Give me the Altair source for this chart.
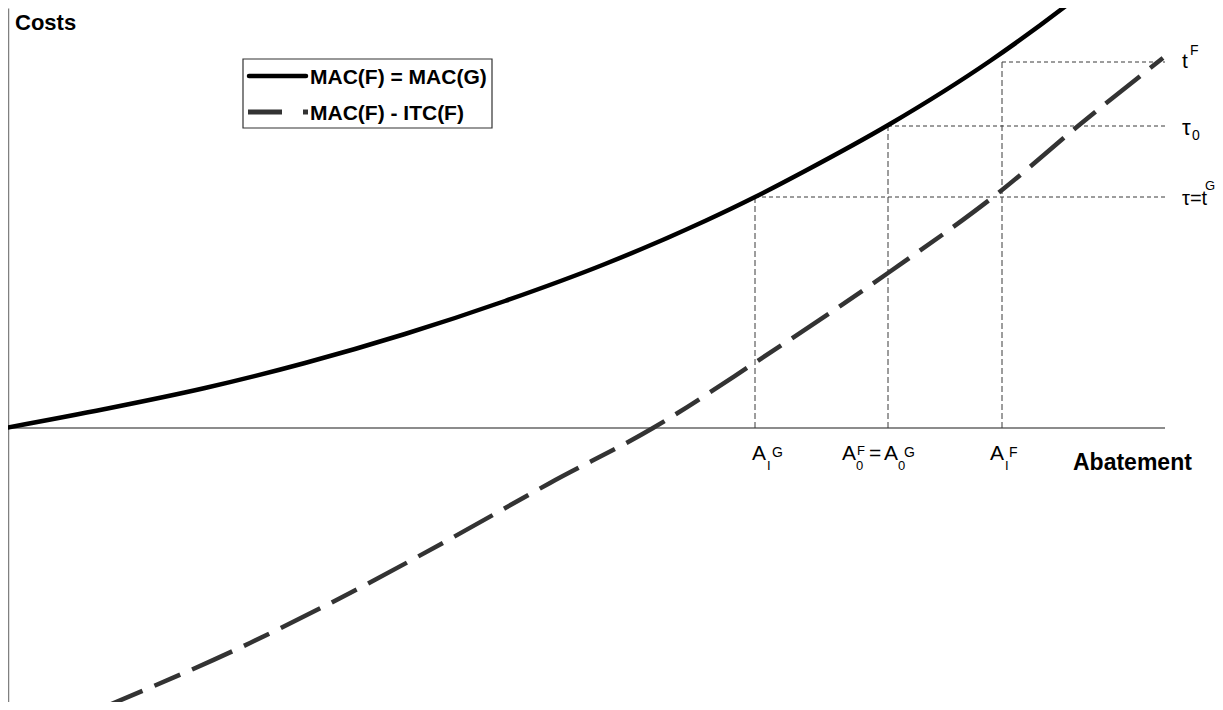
import altair as alt
import pandas as pd

# ---- data (abatement units, cost units; origin = axis crossing) ----
mac_x = [0, 100, 200, 300, 400, 500, 600, 700, 750, 800, 885, 985, 1062, 1080]
mac_y = [0, 19, 40, 65, 94, 127, 164, 207, 231, 257, 304, 367, 423, 437]

itc_x = [97, 245, 345, 445, 545, 648, 751, 883, 997, 1073, 1158]
itc_y = [-280, -215, -165, -111, -55, 0, 66, 155, 238, 302, 370]

abatement_levels = [750, 883, 997]      # A_I^G, A_0^F=A_0^G, A_I^F
price_levels = [231, 302, 366]          # tau=t^G, tau_0, t^F
axis_end = 1160

series_names = ["MAC(F) = MAC(G)", "MAC(F) - ITC(F)"]

FONT = "Liberation Sans"
XS = alt.Scale(domain=[3, 1210])
YS = alt.Scale(domain=[-274, 420])

yaxis = alt.Axis(labels=False, ticks=False, title=None, grid=False,
                 domainColor="#808080", domainWidth=1.5)


def X(f="x"):
    return alt.X(f"{f}:Q", scale=XS, axis=None)


def Y(f="y"):
    return alt.Y(f"{f}:Q", scale=YS, axis=yaxis)


mac_df = pd.DataFrame({"x": mac_x, "y": mac_y})
itc_df = pd.DataFrame({"x": itc_x, "y": itc_y})

mac_line = alt.Chart(mac_df).mark_line(
    color="#000000", strokeWidth=4.5, interpolate="monotone", strokeCap="butt"
).encode(x=X(), y=Y())

itc_line = alt.Chart(itc_df).mark_line(
    color="#333333", strokeWidth=4.5, interpolate="monotone",
    strokeDash=[44, 13, 28, 13], strokeCap="butt"
).encode(x=X(), y=Y())

# horizontal axis
haxis = alt.Chart(pd.DataFrame({"x": [0], "x2": [axis_end], "y": [0]})).mark_rule(
    color="#666666", strokeWidth=1.4
).encode(x=X(), x2="x2:Q", y=Y())

# guide lines
hg = pd.DataFrame({"x": abatement_levels, "x2": [axis_end] * 3, "y": price_levels})
vg = pd.DataFrame({"x": abatement_levels, "y": [0] * 3, "y2": price_levels})
hguides = alt.Chart(hg).mark_rule(color="#3a3a3a", strokeWidth=1, strokeDash=[4, 3]).encode(
    x=X(), x2="x2:Q", y=Y())
vguides = alt.Chart(vg).mark_rule(color="#3a3a3a", strokeWidth=1, strokeDash=[6, 3]).encode(
    x=X(), y=Y(), y2="y2:Q")

# legend (drawn by hand)
box = alt.Chart(pd.DataFrame({"x": [238], "x2": [487], "y": [300], "y2": [369]})).mark_rect(
    fill="white", stroke="#333333", strokeWidth=1.2
).encode(x=X(), x2="x2:Q", y=Y(), y2="y2:Q")
leg_solid = alt.Chart(pd.DataFrame({"x": [244], "x2": [301], "y": [352]})).mark_rule(
    color="#000000", strokeWidth=4.5, strokeCap="round"
).encode(x=X(), x2="x2:Q", y=Y())
leg_dash = alt.Chart(pd.DataFrame({"x": [243], "x2": [277], "y": [316]})).mark_rule(
    color="#333333", strokeWidth=5
).encode(x=X(), x2="x2:Q", y=Y())
leg_dot = alt.Chart(pd.DataFrame({"x": [300.5], "y": [316]})).mark_square(
    color="#333333", size=25, opacity=1
).encode(x=X(), y=Y())

# annotations
bold_txt = pd.DataFrame([
    {"t": "Costs", "x": 10, "y": 398, "s": 22},
    {"t": series_names[0], "x": 305, "y": 344, "s": 21},
    {"t": series_names[1], "x": 305, "y": 308, "s": 21},
    {"t": "Abatement", "x": 1068, "y": -42, "s": 23},
])
norm_txt = pd.DataFrame([
    {"t": "t", "x": 1177, "y": 360, "s": 21},
    {"t": "F", "x": 1185, "y": 373, "s": 14},
    {"t": "τ", "x": 1177, "y": 293, "s": 22},
    {"t": "0", "x": 1187, "y": 288, "s": 14},
    {"t": "τ=t", "x": 1177, "y": 223, "s": 20},
    {"t": "G", "x": 1200, "y": 238, "s": 13},
    {"t": "A", "x": 747, "y": -32, "s": 21},
    {"t": "I", "x": 762, "y": -42, "s": 13},
    {"t": "G", "x": 767, "y": -29, "s": 14},
    {"t": "A", "x": 837, "y": -32, "s": 21},
    {"t": "0", "x": 851, "y": -42, "s": 13},
    {"t": "F", "x": 852, "y": -27, "s": 13},
    {"t": "=", "x": 864, "y": -32, "s": 21},
    {"t": "A", "x": 879, "y": -32, "s": 21},
    {"t": "0", "x": 893, "y": -42, "s": 13},
    {"t": "G", "x": 899, "y": -29, "s": 14},
    {"t": "A", "x": 985, "y": -32, "s": 21},
    {"t": "I", "x": 1000, "y": -42, "s": 13},
    {"t": "F", "x": 1004, "y": -29, "s": 14},
])

bold_layer = alt.Chart(bold_txt).mark_text(
    font=FONT, fontWeight="bold", align="left", baseline="alphabetic", color="#000000"
).encode(x=X(), y=Y(), text="t:N", size=alt.Size("s:Q", scale=None, legend=None))
norm_layer = alt.Chart(norm_txt).mark_text(
    font=FONT, align="left", baseline="alphabetic", color="#000000"
).encode(x=X(), y=Y(), text="t:N", size=alt.Size("s:Q", scale=None, legend=None))

chart = alt.layer(
    haxis, hguides, vguides, itc_line, mac_line,
    box, leg_solid, leg_dash, leg_dot, bold_layer, norm_layer
).properties(
    width=1207, height=694, padding=0,
    autosize=alt.AutoSizeParams(type="none"),
    background="white"
).configure_view(stroke=None)

chart.save("out.html", embed_options={"renderer": "svg", "actions": False})
